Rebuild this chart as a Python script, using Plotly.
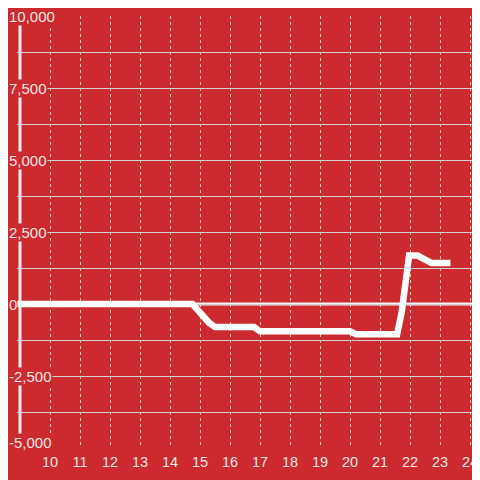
import plotly.graph_objects as go

x_vals = [8.9, 14.75, 15.3, 15.5, 16.8, 17.0, 20.0, 20.2, 21.57, 21.72, 21.97, 22.25, 22.72, 23.35]
y_vals = [0, 0, -650, -800, -800, -950, -950, -1050, -1050, -300, 1680, 1680, 1420, 1420]

x_ticks = list(range(10, 25))
y_label_vals = [10000, 7500, 5000, 2500, 0, -2500, -5000]
y_label_text = ["10,000", "7,500", "5,000", "2,500", "0", "-2,500", "-5,000"]

BG = "#cc2a2f"
GRID = "#d2d2d2"
TXT = "#f3e6e6"

W = 480
L, T, B = 9, 8, 40
plot_w = W - L

fig = go.Figure()
fig.add_trace(go.Scatter(x=x_vals, y=y_vals, mode="lines",
                         line=dict(color="white", width=6.5), hoverinfo="skip"))

fig.add_hline(y=0, line=dict(color="#f4f4f4", width=3), layer="below")
fig.add_shape(type="line", xref="x", yref="y", x0=9, x1=9, y0=-5000, y1=9750,
              line=dict(color="#f0f0f0", width=3), layer="above")

for v, t in zip(y_label_vals, y_label_text):
    fig.add_annotation(x=-L / plot_w, xref="paper", xanchor="left", y=v, yref="y",
                       yshift=6 if v == -5000 else 0,
                       text=t, showarrow=False, bgcolor=BG,
                       font=dict(family="Liberation Sans, Arial", size=15, color=TXT),
                       borderpad=0)

fig.update_layout(
    width=W, height=W,
    paper_bgcolor=BG, plot_bgcolor=BG,
    margin=dict(l=L, r=0, t=T, b=B, autoexpand=False),
    showlegend=False,
    xaxis=dict(range=[8.9, 8.9 + plot_w / 30], tickvals=x_ticks, automargin=False,
               showgrid=True, gridcolor=GRID, griddash="dot", gridwidth=1,
               zeroline=False, showline=False, ticks="", ticklabelstandoff=3,
               tickfont=dict(family="Liberation Sans, Arial", size=14.5, color=TXT)),
    yaxis=dict(range=[-5000, 10000], dtick=1250, tick0=0, automargin=False,
               showgrid=True, gridcolor=GRID, gridwidth=1,
               zeroline=False, showline=False, ticks="", showticklabels=False),
)

fig.write_html("out.html")
